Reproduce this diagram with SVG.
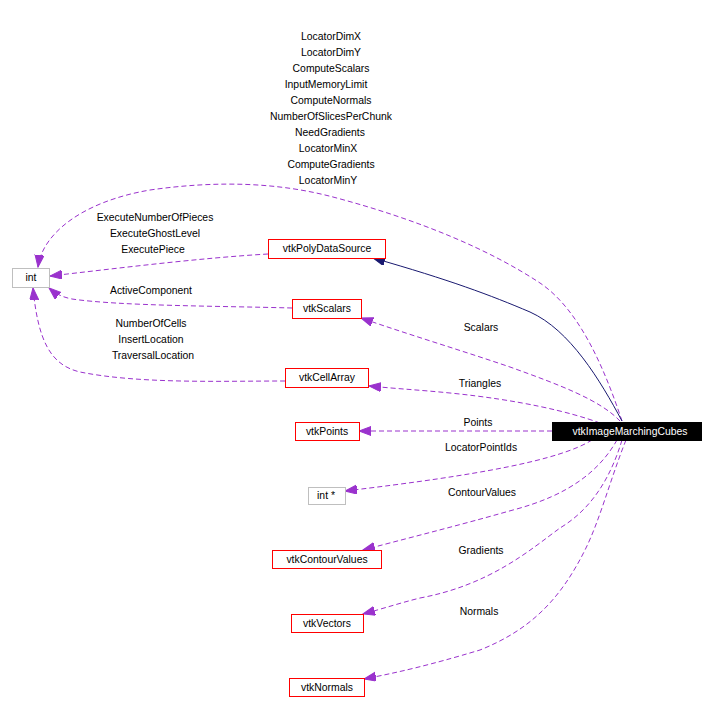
<svg xmlns="http://www.w3.org/2000/svg" width="714" height="713" viewBox="0 0 714 713">
<style>
text{font-family:"Liberation Sans",Arial,sans-serif;font-size:10.4px;fill:#000;text-anchor:middle}
.red{fill:#fff;stroke:#ff0000;stroke-width:1}
.gray{fill:#fff;stroke:#bfbfbf;stroke-width:1}
.e{fill:none;stroke:#9a32cd;stroke-width:1;stroke-dasharray:5,3;marker-end:url(#pa)}
.s{fill:none;stroke:#191970;stroke-width:1;marker-end:url(#na)}
</style>
<defs>
<marker id="pa" markerUnits="userSpaceOnUse" markerWidth="14" markerHeight="10" refX="12" refY="4.5" orient="auto">
<path d="M0,0 L12,4.5 L0,9 Z" fill="#9a32cd" stroke="#9a32cd"/>
</marker>
<marker id="na" markerUnits="userSpaceOnUse" markerWidth="14" markerHeight="10" refX="12" refY="4.5" orient="auto">
<path d="M0,0 L12,4.5 L0,9 Z" fill="#191970" stroke="#191970"/>
</marker>
</defs>
<rect width="714" height="713" fill="#fff"/>
<g id="edges">
<path class="e" d="M622,421 C605,370 580,310 540,283 C490,250 420,220 333,197 C280,183 220,180 150,190 C80,202 42,235 38,267"/>
<path class="s" d="M622,421 C600,380 570,330 530,312 C490,295 450,280 373,258"/>
<path class="e" d="M268,254 C200,258 120,268 50,276"/>
<path class="e" d="M292,308 C220,306 120,306 72,299 C62,297 56,294 49,288"/>
<path class="e" d="M285,381 C220,381 140,384 80,372 C50,365 38,340 33,288"/>
<path class="e" d="M620,421 C600,400 560,385 510,367 C460,350 410,335 361,318"/>
<path class="e" d="M600,423 C570,412 520,400 450,393 C420,390 400,389 369,386"/>
<path class="e" d="M552,431 L359,431"/>
<path class="e" d="M592,440 C560,460 480,475 345,491"/>
<path class="e" d="M617,440 C600,470 570,495 513,510 C460,525 420,535 363,550"/>
<path class="e" d="M622,440 C610,480 590,510 560,528 C530,550 490,585 420,598 C400,603 385,608 363,614"/>
<path class="e" d="M626,440 C610,480 600,520 585,550 C560,600 530,630 480,650 C430,665 400,672 364,679"/>
</g>
<g id="labels">
<text x="331" y="40">LocatorDimX</text>
<text x="331" y="56">LocatorDimY</text>
<text x="331" y="72">ComputeScalars</text>
<text x="326" y="88">InputMemoryLimit</text>
<text x="331" y="104">ComputeNormals</text>
<text x="331" y="120">NumberOfSlicesPerChunk</text>
<text x="330" y="136">NeedGradients</text>
<text x="328" y="152">LocatorMinX</text>
<text x="331" y="168">ComputeGradients</text>
<text x="328" y="184">LocatorMinY</text>
<text x="155" y="221">ExecuteNumberOfPieces</text>
<text x="155" y="237">ExecuteGhostLevel</text>
<text x="153" y="253">ExecutePiece</text>
<text x="151" y="294">ActiveComponent</text>
<text x="151" y="327">NumberOfCells</text>
<text x="151" y="343">InsertLocation</text>
<text x="153" y="359">TraversalLocation</text>
<text x="481" y="331">Scalars</text>
<text x="480" y="387">Triangles</text>
<text x="478" y="426">Points</text>
<text x="481" y="451">LocatorPointIds</text>
<text x="482" y="496">ContourValues</text>
<text x="481" y="554">Gradients</text>
<text x="479" y="615">Normals</text>
</g>
<g id="int"><rect class="gray" x="12.5" y="268.5" width="37" height="19"/><text x="31" y="281">int</text></g>
<g id="vtkPolyDataSource"><rect class="red" x="268.5" y="239.5" width="117" height="19"/><text x="327" y="252">vtkPolyDataSource</text></g>
<g id="vtkScalars"><rect class="red" x="292.5" y="299.5" width="69" height="19"/><text x="327" y="312">vtkScalars</text></g>
<g id="vtkCellArray"><rect class="red" x="285.5" y="368.5" width="83" height="19"/><text x="327" y="381">vtkCellArray</text></g>
<g id="vtkPoints"><rect class="red" x="295.5" y="422.5" width="64" height="18"/><text x="327" y="435">vtkPoints</text></g>
<g id="vtkImageMarchingCubes"><rect x="552" y="422" width="150" height="19" fill="#000"/><text x="630" y="435" style="fill:#fff">vtkImageMarchingCubes</text></g>
<g id="intptr"><rect class="gray" x="308.5" y="487.5" width="37" height="17"/><text x="326" y="499">int *</text></g>
<g id="vtkContourValues"><rect class="red" x="272.5" y="550.5" width="109" height="18"/><text x="327" y="563">vtkContourValues</text></g>
<g id="vtkVectors"><rect class="red" x="291.5" y="614.5" width="72" height="18"/><text x="327" y="627">vtkVectors</text></g>
<g id="vtkNormals"><rect class="red" x="289.5" y="678.5" width="75" height="18"/><text x="327" y="691">vtkNormals</text></g>
</svg>
